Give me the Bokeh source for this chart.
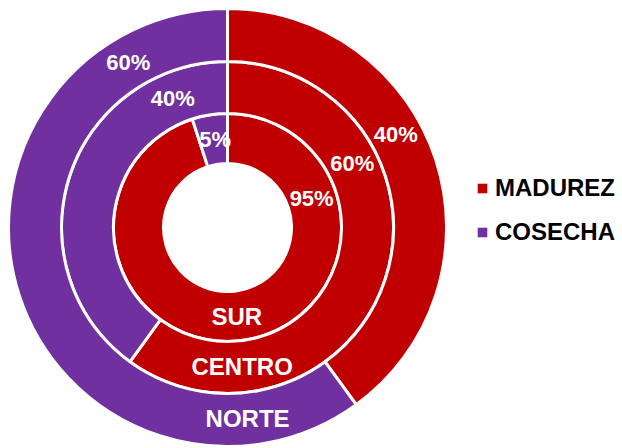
import math
from bokeh.plotting import figure
from bokeh.models import ColumnDataSource, Legend, LegendItem
from bokeh.core.properties import value
from bokeh.embed import file_html
from bokeh.resources import INLINE

# ---- data (rings listed from inner to outer) ----
rings = ["SUR", "CENTRO", "NORTE"]
series = ["MADUREZ", "COSECHA"]
madurez = [95, 60, 40]
cosecha = [5, 40, 60]
colors = ["#C00000", "#7030A0"]

# ---- layout ----
W, H = 622, 448
CX, CY = 227, 221
edges = [64, 114, 166, 219]          # ring boundaries (px)
pct_label_angle = {"MADUREZ": [19, 27, 29], "COSECHA": [98, 113, 121]}
cat_label_angle = -84
FONT = "Liberation Sans"

p = figure(width=W, height=H, x_range=(0, W), y_range=(0, H),
           output_backend="svg", toolbar_location=None, min_border=0)
p.axis.visible = False
p.grid.visible = False
p.outline_line_color = None
p.background_fill_color = "white"

values = {"MADUREZ": madurez, "COSECHA": cosecha}
legend_items = []
lab_x, lab_y, lab_t = [], [], []
for si, s in enumerate(series):
    xs, ys, r0, r1, a0, a1 = [], [], [], [], [], []
    for ri, ring in enumerate(rings):
        total = madurez[ri] + cosecha[ri]
        before = sum(values[series[k]][ri] for k in range(si))
        start = 90 - 360 * before / total
        end = start - 360 * values[s][ri] / total
        xs.append(CX); ys.append(CY)
        r0.append(edges[ri]); r1.append(edges[ri + 1])
        a0.append(math.radians(start)); a1.append(math.radians(end))
        rm = (edges[ri] + edges[ri + 1]) / 2
        ang = math.radians(pct_label_angle[s][ri])
        lab_x.append(CX + rm * math.cos(ang))
        lab_y.append(CY + rm * math.sin(ang))
        lab_t.append(f"{values[s][ri]}%")
    src = ColumnDataSource(dict(x=xs, y=ys, r0=r0, r1=r1, a0=a0, a1=a1))
    p.annular_wedge(x="x", y="y", inner_radius="r0", outer_radius="r1",
                    start_angle="a0", end_angle="a1", direction="clock",
                    source=src, fill_color=colors[si],
                    line_color="white", line_width=3)
    # legend swatch renderer (kept outside the visible range)
    dummy = p.rect(x=[-1000], y=[-1000], width=1, height=1,
                   fill_color=colors[si], line_color=None)
    legend_items.append(LegendItem(label=s, renderers=[dummy]))

p.text(x=lab_x, y=lab_y, text=lab_t, text_font=value(FONT),
       text_font_style="bold", text_font_size="22px", text_color="white",
       text_align="center", text_baseline="middle")

cx_, cy_ = [], []
for ri, ring in enumerate(rings):
    rm = (edges[ri] + edges[ri + 1]) / 2
    ang = math.radians(cat_label_angle)
    cx_.append(CX + rm * math.cos(ang))
    cy_.append(CY + rm * math.sin(ang))
p.text(x=cx_, y=cy_, text=rings, text_font=value(FONT),
       text_font_style="bold", text_font_size="24px", text_color="white",
       text_align="center", text_baseline="middle")

legend = Legend(items=legend_items, location=(476, 202),
                glyph_width=12, glyph_height=12, label_standoff=7,
                spacing=16, padding=0, margin=0,
                label_text_font=FONT, label_text_font_style="bold",
                label_text_font_size="24px", label_text_color="black",
                border_line_color=None, background_fill_alpha=0)
p.add_layout(legend)

open("out.html", "w").write(file_html(p, INLINE))
